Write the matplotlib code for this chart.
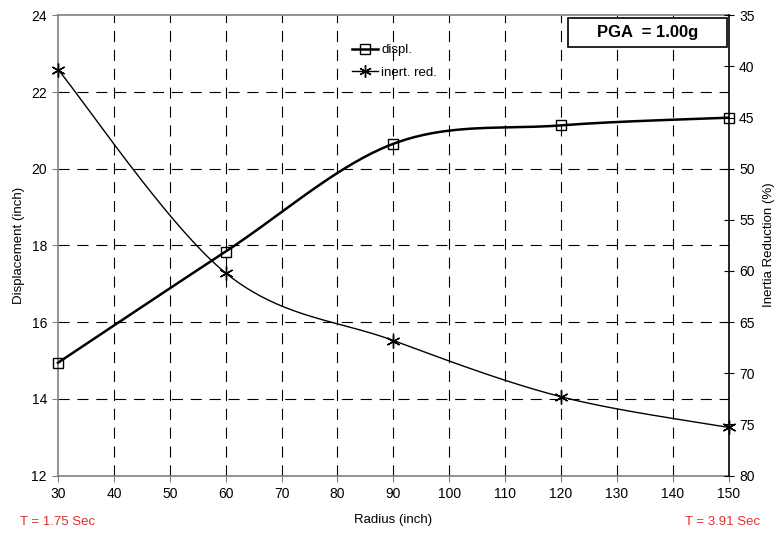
import numpy as np
import matplotlib
matplotlib.use("Agg")
import matplotlib.pyplot as plt
from matplotlib.lines import Line2D
from matplotlib.patches import Rectangle

plt.rcParams['font.family'] = ['Liberation Sans', 'DejaVu Sans']

radius = [30, 60, 90, 120, 150]
displ = [14.94, 17.84, 20.65, 21.13, 21.33]
inert_red = [40.3, 60.2, 66.8, 72.3, 75.3]
x_ticks = list(range(30, 151, 10))
left_ticks = [12, 14, 16, 18, 20, 22, 24]
right_ticks = [35, 40, 45, 50, 55, 60, 65, 70, 75, 80]


def smooth(xs, ys, n=40):
    xs = np.asarray(xs, float); ys = np.asarray(ys, float)
    outx, outy = [], []
    m = len(xs)
    for i in range(m - 1):
        p1x, p1y = xs[i], ys[i]
        p2x, p2y = xs[i + 1], ys[i + 1]
        p0x, p0y = (xs[i - 1], ys[i - 1]) if i > 0 else (p1x, p1y)
        p3x, p3y = (xs[i + 2], ys[i + 2]) if i + 2 < m else (p2x, p2y)
        c1x = p1x + (p2x - p0x) / 6; c1y = p1y + (p2y - p0y) / 6
        c2x = p2x - (p3x - p1x) / 6; c2y = p2y - (p3y - p1y) / 6
        t = np.linspace(0, 1, n)
        bx = (1 - t) ** 3 * p1x + 3 * (1 - t) ** 2 * t * c1x + 3 * (1 - t) * t ** 2 * c2x + t ** 3 * p2x
        by = (1 - t) ** 3 * p1y + 3 * (1 - t) ** 2 * t * c1y + 3 * (1 - t) * t ** 2 * c2y + t ** 3 * p2y
        outx.extend(bx); outy.extend(by)
    return np.array(outx), np.array(outy)


W, H = 777, 534
fig = plt.figure(figsize=(7.77, 5.34), dpi=100)
ax = fig.add_axes([58 / W, 1 - 475.5 / H, (728.7 - 58) / W, (475.5 - 15.3) / H])
ax2 = ax.twinx()

ax.set_xlim(30, 150)
ax.set_ylim(12, 24)
ax2.set_ylim(80, 35)

gray = '#808080'
for s in ['left', 'bottom', 'top']:
    ax.spines[s].set_color(gray)
    ax.spines[s].set_linewidth(1.2)
ax.spines['right'].set_visible(False)
for s in ['left', 'bottom', 'top']:
    ax2.spines[s].set_visible(False)
ax2.spines['right'].set_color('black')
ax2.spines['right'].set_linewidth(1.2)

ax.set_xticks(x_ticks)
ax.set_yticks(left_ticks)
ax2.set_yticks(right_ticks)
ax.tick_params(axis='both', direction='out', length=4, color=gray, labelsize=10, pad=4)
ax2.tick_params(axis='y', direction='inout', length=7, color='black', labelsize=10, pad=4)

dash = (0, (10, 7))
for xv in x_ticks[1:-1]:
    ax.axvline(xv, color='black', lw=0.8, ls=dash, zorder=1)
for yv in left_ticks[1:-1]:
    ax.axhline(yv, color='black', lw=0.8, ls=dash, zorder=1)

sx, sy = smooth(radius, displ)
ax.plot(sx, sy, color='black', lw=1.8, zorder=3, clip_on=False)
ax.plot(radius, displ, ls='none', marker='s', ms=7, mfc='none', mec='black', mew=1.0, zorder=4, clip_on=False)

ix, iy = smooth(radius, inert_red)
ax2.plot(ix, iy, color='black', lw=1.0, zorder=3, clip_on=False)
ax2.plot(radius, inert_red, ls='none', marker=(6, 2, 0), ms=10, mec='black', mew=1.0, zorder=4, clip_on=False)

fig.text(19 / W, 1 - 245 / H, 'Displacement (inch)', fontsize=9.5, rotation=90, ha='center', va='center')
fig.text(769 / W, 1 - 245 / H, 'Inertia Reduction (%)', fontsize=9.5, rotation=90, ha='center', va='center')
fig.text(393 / W, 1 - 520 / H, 'Radius (inch)', fontsize=9.5, ha='center', va='center')

handles = [Line2D([], [], color='black', lw=1.8, marker='s', ms=7, mfc='none', mec='black', mew=1.0),
           Line2D([], [], color='black', lw=1.0, marker=(6, 2, 0), ms=9, mec='black', mew=1.0)]
leg = ax.legend(handles, ['displ.', 'inert. red.'], loc='upper left', bbox_to_anchor=(352 / W, 1 - 44 / H),
                bbox_transform=fig.transFigure,
                frameon=False, fontsize=9.5, handlelength=2.0, handletextpad=0.2, labelspacing=0.8,
                borderpad=0.0, borderaxespad=0.0)

fig.patches.append(Rectangle((568 / W, 1 - 47 / H), (727 - 568) / W, (47 - 18) / H,
                             transform=fig.transFigure, fc='white', ec='black', lw=1.2, zorder=6))
fig.text(648 / W, 1 - 32.5 / H, 'PGA  = 1.00g', ha='center', va='center',
         fontsize=12, fontweight='bold', zorder=7)

fig.text(20 / W, 1 - 522 / H, 'T = 1.75 Sec', color='#e03030', fontsize=9.5, va='center', ha='left')
fig.text(760 / W, 1 - 522 / H, 'T = 3.91 Sec', color='#e03030', fontsize=9.5, va='center', ha='right')

fig.savefig('out.png', dpi=100)
